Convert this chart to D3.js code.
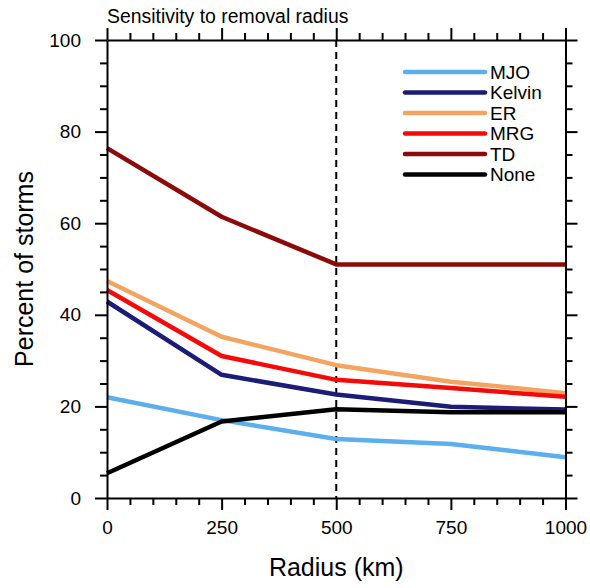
<!DOCTYPE html>
<html>
<head>
<meta charset="utf-8">
<script src="https://cdn.jsdelivr.net/npm/d3@7"></script>
<style>
  body { margin: 0; background: #fff; }
  svg { font-family: "Liberation Sans", Arial, Helvetica, sans-serif; }
</style>
</head>
<body>
<div id="chart"></div>
<script>
// radius values on the x axis (km)
const radii = [0, 250, 500, 750, 1000];

// percent of storms for each wave type
const seriesNames = ["MJO", "Kelvin", "ER", "MRG", "TD", "None"];
const mjo    = [22.0, 17.0, 12.9, 11.8, 8.9];
const kelvin = [42.9, 26.9, 22.6, 19.9, 19.3];
const er     = [47.4, 35.2, 29.0, 25.4, 22.9];
const mrg    = [45.4, 31.0, 25.8, 24.0, 22.1];
const td     = [76.4, 61.4, 51.0, 51.0, 51.0];
const none   = [5.4, 16.7, 19.4, 18.7, 18.7];

const seriesColors = ["#5aafec", "#1b1b78", "#f4a461", "#f50a0a", "#8c0a0a", "#000000"];

const xTicks = [0, 250, 500, 750, 1000];
const yTicks = [0, 20, 40, 60, 80, 100];

const width = 590, height = 588;
const margin = {top: 40, right: 24, bottom: 90, left: 107};

const svg = d3.select("#chart")
  .append("svg")
  .attr("width", width)
  .attr("height", height);

const x = d3.scaleLinear()
  .domain([0, 1000])
  .range([margin.left, width - margin.right - 0.5]);

const y = d3.scaleLinear()
  .domain([0, 100])
  .range([498, margin.top]);

// minor ticks, every 50 km and every 5 percent
const xMinor = d3.range(0, 1001, 50).filter(d => d % 250 !== 0);
const yMinor = d3.range(0, 101, 5).filter(d => d % 20 !== 0);

const data = seriesNames.map((name, i) => ({
  name: name,
  color: seriesColors[i],
  values: [mjo, kelvin, er, mrg, td, none][i]
}));

const line = d3.line()
  .x((d, i) => x(radii[i]))
  .y(d => y(d));

// dashed line at 500 km
svg.append("line")
  .attr("x1", x(500)).attr("x2", x(500))
  .attr("y1", y(100)).attr("y2", y(0))
  .attr("stroke", "#000")
  .attr("stroke-width", 2)
  .attr("stroke-dasharray", "7,5");

svg.selectAll("path.series")
  .data(data)
  .enter()
  .append("path")
  .attr("class", "series")
  .attr("d", d => line(d.values))
  .attr("fill", "none")
  .attr("stroke", d => d.color)
  .attr("stroke-width", 4.5)
  .attr("stroke-linejoin", "round");

// axes on all four sides, ticks pointing outwards
function styleAxis(g) {
  g.selectAll(".domain").attr("stroke-width", 2);
  g.selectAll(".tick line").attr("stroke-width", 2);
  g.selectAll(".tick text")
    .attr("font-size", 19)
    .attr("fill", "#000");
}

const axisB = svg.append("g")
  .attr("transform", `translate(0,${y(0)})`)
  .call(d3.axisBottom(x).tickValues(xTicks).tickSize(12).tickPadding(11)
    .tickFormat(d3.format("d")).tickSizeOuter(0));
styleAxis(axisB);

svg.append("g")
  .attr("transform", `translate(0,${y(0)})`)
  .call(d3.axisBottom(x).tickValues(xMinor).tickSize(7).tickFormat(""))
  .call(g => g.select(".domain").remove())
  .call(styleAxis);

const axisT = svg.append("g")
  .attr("transform", `translate(0,${y(100)})`)
  .call(d3.axisTop(x).tickValues(xTicks).tickSize(12).tickFormat("").tickSizeOuter(0));
styleAxis(axisT);

svg.append("g")
  .attr("transform", `translate(0,${y(100)})`)
  .call(d3.axisTop(x).tickValues(xMinor).tickSize(7).tickFormat(""))
  .call(g => g.select(".domain").remove())
  .call(styleAxis);

const axisL = svg.append("g")
  .attr("transform", `translate(${x(0)},0)`)
  .call(d3.axisLeft(y).tickValues(yTicks).tickSize(12).tickPadding(14).tickSizeOuter(0));
styleAxis(axisL);

svg.append("g")
  .attr("transform", `translate(${x(0)},0)`)
  .call(d3.axisLeft(y).tickValues(yMinor).tickSize(7).tickFormat(""))
  .call(g => g.select(".domain").remove())
  .call(styleAxis);

const axisR = svg.append("g")
  .attr("transform", `translate(${x(1000)},0)`)
  .call(d3.axisRight(y).tickValues(yTicks).tickSize(12).tickFormat("").tickSizeOuter(0));
styleAxis(axisR);

svg.append("g")
  .attr("transform", `translate(${x(1000)},0)`)
  .call(d3.axisRight(y).tickValues(yMinor).tickSize(7).tickFormat(""))
  .call(g => g.select(".domain").remove())
  .call(styleAxis);

// titles
svg.append("text")
  .attr("x", x(0))
  .attr("y", 23)
  .attr("font-size", 19.4)
  .text("Sensitivity to removal radius");

svg.append("text")
  .attr("x", x(500))
  .attr("y", 576)
  .attr("text-anchor", "middle")
  .attr("font-size", 25)
  .text("Radius (km)");

svg.append("text")
  .attr("transform", `translate(33,${y(50)}) rotate(-90)`)
  .attr("text-anchor", "middle")
  .attr("font-size", 25)
  .text("Percent of storms");

// legend
const legend = svg.append("g")
  .selectAll("g")
  .data(data)
  .enter()
  .append("g")
  .attr("transform", (d, i) => `translate(405,${72 + i * 20.5})`);

legend.append("line")
  .attr("x1", 0).attr("x2", 80)
  .attr("stroke", d => d.color)
  .attr("stroke-width", 4.5)
  .attr("stroke-linecap", "round");

legend.append("text")
  .attr("x", 85)
  .attr("dy", "0.36em")
  .attr("font-size", 19)
  .text(d => d.name);
</script>
</body>
</html>
